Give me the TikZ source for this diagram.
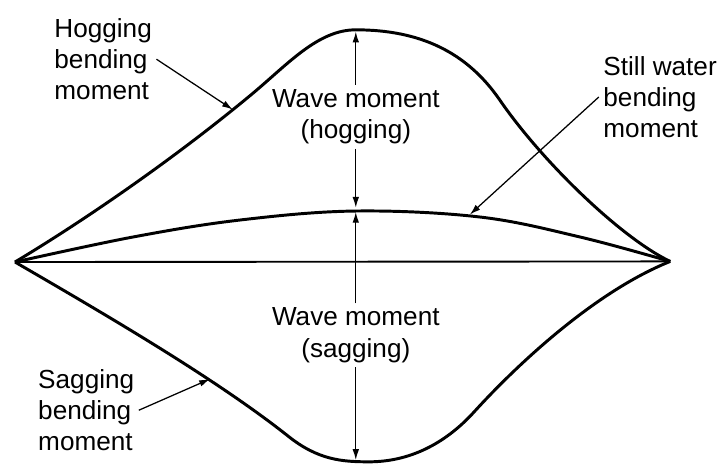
\documentclass[tikz,border=0pt]{standalone}
\usepackage{fontspec}
\setmainfont{Liberation Sans}
\usetikzlibrary{arrows.meta}

\begin{document}
\begin{tikzpicture}[
  font=\fontsize{12.4}{14.8}\selectfont,
  curve/.style={line width=1.4pt, line join=round},
  base/.style={line width=0.9pt},
  dim/.style={-{Latex[length=1.8mm,width=1.1mm]}, line width=0.6pt},
  lead/.style={-{Latex[length=1.8mm,width=1.1mm]}, line width=0.6pt},
  lbl/.style={align=left, inner sep=2pt},
  wlbl/.style={align=center, inner sep=2pt}
]
\useasboundingbox (0,0) rectangle (12,7.767);

\coordinate (lend) at (0.25,3.40);
\coordinate (rend) at (11.17,3.41);
\coordinate (hogtop) at (5.93,7.24);
\coordinate (swtop) at (5.93,4.27);
\coordinate (sagbot) at (5.93,0.10);
\coordinate (hogpt) at (3.88,5.94);
\coordinate (swpt) at (7.83,4.19);
\coordinate (sagpt) at (3.50,1.45);

\draw[base] (lend) -- (rend);
\draw[curve] (lend) .. controls (1.5,4.15) and (3.0,5.2) .. (4.2,6.2)
  .. controls (4.8,6.7) and (5.3,7.27) .. (5.93,7.27)
  .. controls (7.0,7.27) and (7.78,6.9) .. (8.33,6.1)
  .. controls (9.03,5.08) and (10.35,3.8) .. (rend);
\draw[curve] plot[smooth, tension=0.6] coordinates {
  (0.25,3.40) (2.217,3.817) (4.0,4.1) (5.933,4.25) (8.0,4.15)
  (9.667,3.817) (11.17,3.41)};
\draw[curve] (lend) .. controls (1.8,2.5) and (3.6,1.45) .. (4.8,0.5)
  .. controls (5.3,0.1) and (5.7,0.07) .. (6.15,0.07)
  .. controls (6.8,0.07) and (7.4,0.35) .. (7.9,0.9)
  .. controls (8.6,1.67) and (9.9,2.9) .. (rend);

\node[wlbl] (hogw) at (5.93,5.82) {Wave moment\\(hogging)};
\node[wlbl] (sagw) at (5.93,2.18) {Wave moment\\(sagging)};
\draw[dim] (hogw.north) -- (hogtop);
\draw[dim, shorten >=1pt] (hogw.south) -- (swtop);
\draw[dim, shorten >=1pt] (sagw.north) -- (swtop);
\draw[dim] (sagw.south) -- (sagbot);

\node[lbl, anchor=west] (hoglbl) at (0.83,6.78) {Hogging\\bending\\moment};
\node[lbl, anchor=west] (swlbl) at (9.98,6.15) {Still water\\bending\\moment};
\node[lbl, anchor=west] (saglbl) at (0.56,0.93) {Sagging\\bending\\moment};
\draw[lead] (hoglbl.east) -- (hogpt);
\draw[lead] (swlbl.west) -- (swpt);
\draw[lead] (saglbl.east) -- (sagpt);
\end{tikzpicture}
\end{document}
